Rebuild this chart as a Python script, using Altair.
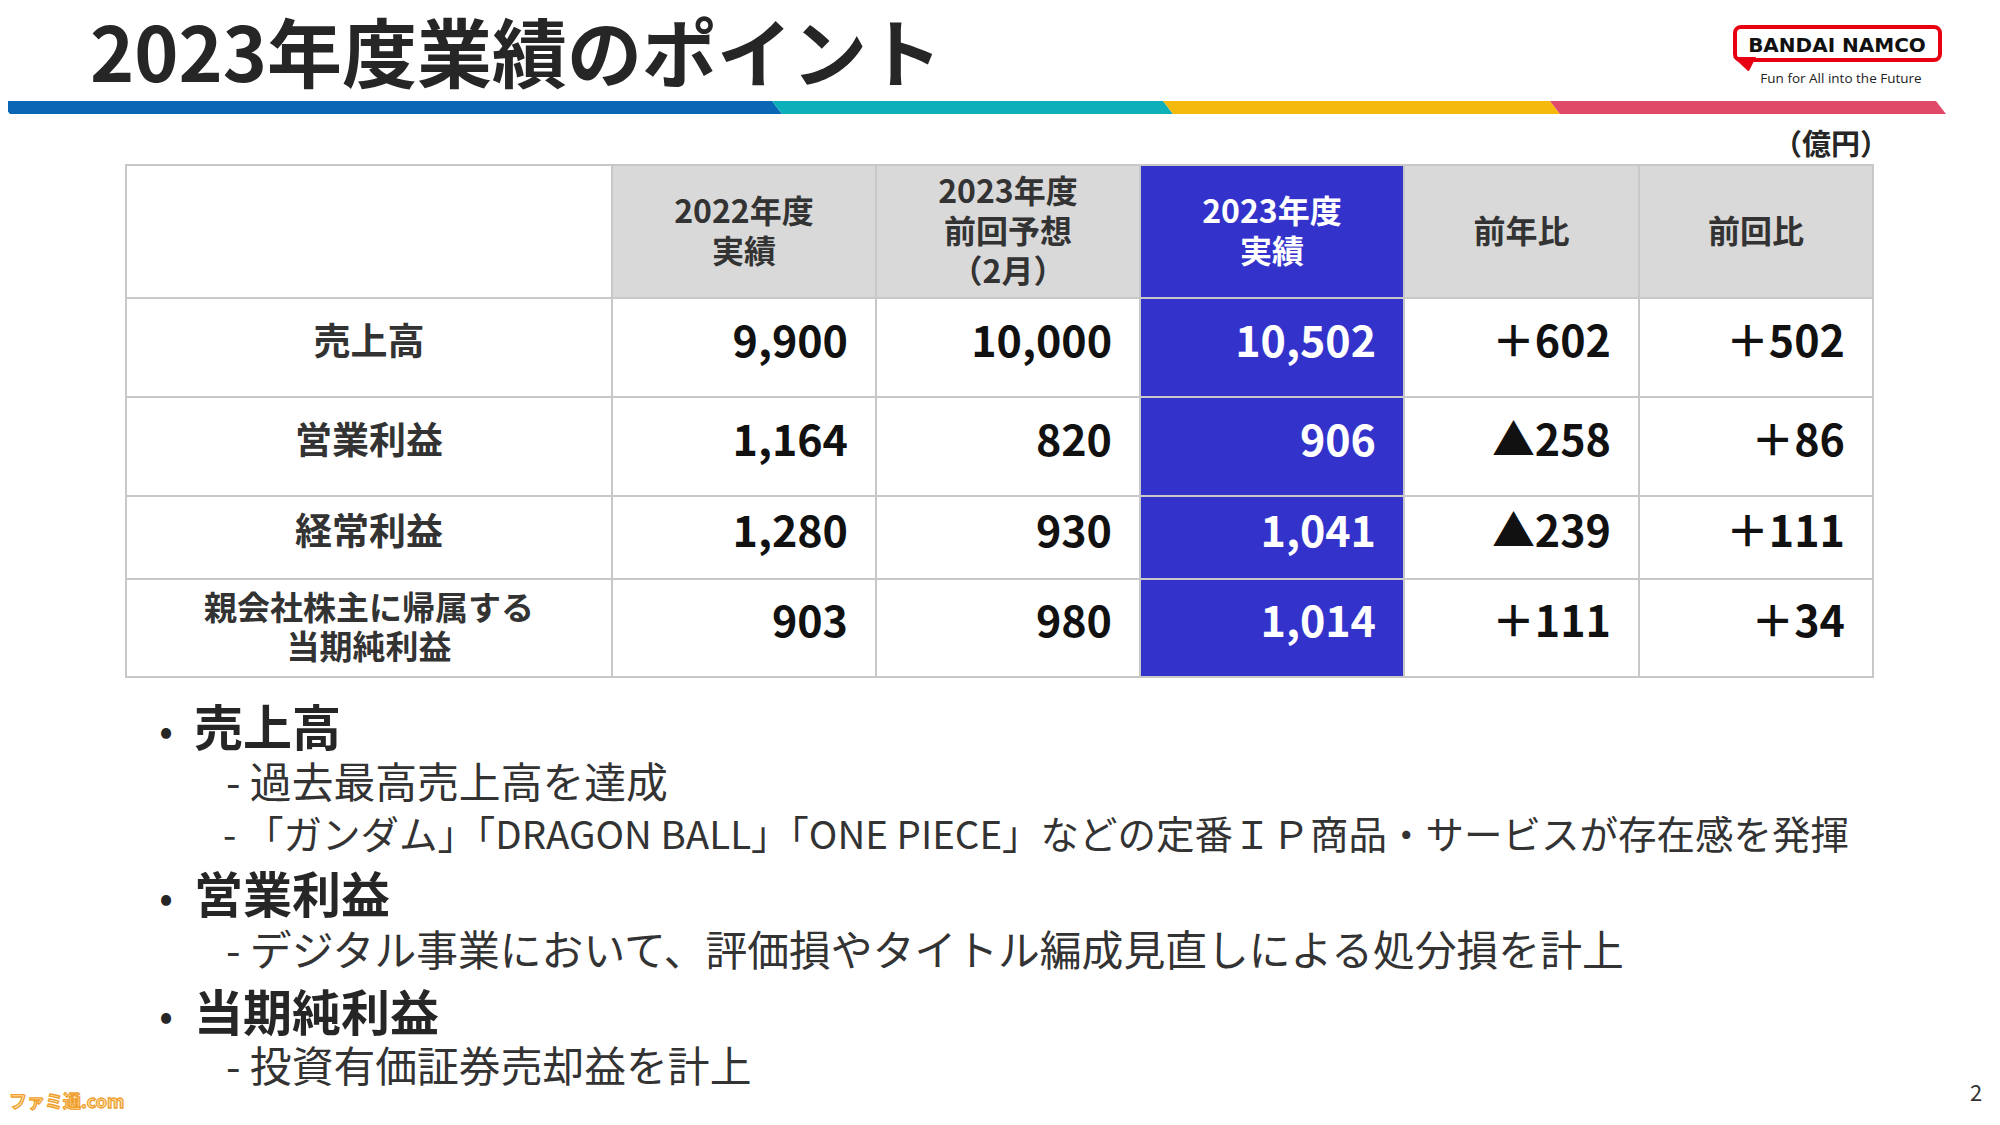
import altair as alt
import pandas as pd

# ---------------- data ----------------
title = "2023年度業績のポイント"
unit_label = "（億円）"
col_headers = ["2022年度\n実績", "2023年度\n前回予想\n（2月）", "2023年度\n実績", "前年比", "前回比"]
row_labels = ["売上高", "営業利益", "経常利益", "親会社株主に帰属する\n当期純利益"]
fy2022_actual = [9900, 1164, 1280, 903]
fy2023_forecast_feb = [10000, 820, 930, 980]
fy2023_actual = [10502, 906, 1041, 1014]
yoy_change = [602, -258, -239, 111]
vs_forecast = [502, 86, 111, 34]
bullet_heads = ["売上高", "営業利益", "当期純利益"]
bullet_details = [
    ["過去最高売上高を達成",
     "「ガンダム」「DRAGON BALL」「ONE PIECE」などの定番ＩＰ商品・サービスが存在感を発揮"],
    ["デジタル事業において、評価損やタイトル編成見直しによる処分損を計上"],
    ["投資有価証券売却益を計上"],
]
logo_text = "BANDAI NAMCO"
logo_tagline = "Fun for All into the Future"
page_number = "2"
watermark = "ファミ通.com"

# ---------------- layout ----------------
W, H = 1984, 1109
xs = alt.Scale(domain=[8, 8 + W])
ys = alt.Scale(domain=[8, 8 + H], reverse=True)
FONT = "Noto Sans CJK JP"
DARK = "#262626"
BLUE_COL = "#3333cc"
GRAY = "#d9d9d9"
BORDER = "#c8c8c8"

col_edges = [126, 612, 876, 1140, 1404, 1639, 1873]
row_edges = [165, 298, 397, 496, 579, 677]


def X(f="x"):
    return alt.X(f"{f}:Q", scale=xs, axis=None)


def Y(f="y"):
    return alt.Y(f"{f}:Q", scale=ys, axis=None)


def fmt(v):
    return f"{v:,}"


def diff(v):
    return f"＋{v:,}" if v >= 0 else f"▲{abs(v):,}"


layers = []

# colour band under title (parallelograms)
band_cols = ["#0a67b5", "#0bb0b9", "#f5b80c", "#e04a68"]
band_edges = [0, 772, 1163, 1550, 1936]
band_rows = []
for i in range(4):
    band_rows.append(dict(seg=i, y=101, x=band_edges[i], x2=band_edges[i + 1], c=band_cols[i]))
    band_rows.append(dict(seg=i, y=114, x=band_edges[i] + 10, x2=band_edges[i + 1] + 10, c=band_cols[i]))
layers.append(
    alt.Chart(pd.DataFrame(band_rows)).mark_area(orient="horizontal", clip=False).encode(
        y=Y(), x=X(), x2="x2:Q", color=alt.Color("c:N", scale=None), detail="seg:N"
    )
)

# title
layers.append(
    alt.Chart(pd.DataFrame([dict(x=90, y=59, t=title)])).mark_text(
        align="left", baseline="middle", font=FONT, fontWeight="bold", fontSize=75, color=DARK
    ).encode(x=X(), y=Y(), text="t:N")
)

# logo
layers.append(
    alt.Chart(pd.DataFrame([dict(x=1735, x2=1940, y=27, y2=60)])).mark_rect(
        fill="white", stroke="#e60012", strokeWidth=4, cornerRadius=6
    ).encode(x=X(), x2="x2:Q", y=Y(), y2="y2:Q")
)
layers.append(
    alt.Chart(pd.DataFrame([dict(y=57, x=1733, x2=1756), dict(y=71, x=1748, x2=1749)])).mark_area(
        orient="horizontal", color="#e60012"
    ).encode(y=Y(), x=X(), x2="x2:Q")
)
layers.append(
    alt.Chart(pd.DataFrame([dict(x=1837, y=46, t=logo_text)])).mark_text(
        align="center", baseline="middle", font="DejaVu Sans", fontWeight="bold", fontSize=20, color="#111"
    ).encode(x=X(), y=Y(), text="t:N")
)
layers.append(
    alt.Chart(pd.DataFrame([dict(x=1841, y=79, t=logo_tagline)])).mark_text(
        align="center", baseline="middle", font="Open Sans", fontSize=13.5, color="#222"
    ).encode(x=X(), y=Y(), text="t:N")
)

# unit label
layers.append(
    alt.Chart(pd.DataFrame([dict(x=1889, y=146, t=unit_label)])).mark_text(
        align="right", baseline="middle", font=FONT, fontWeight="bold", fontSize=29, color=DARK
    ).encode(x=X(), y=Y(), text="t:N")
)

# table cells
cells = []
for r in range(5):
    for c in range(6):
        if c == 3:
            fill = BLUE_COL
        elif r == 0 and c > 0:
            fill = GRAY
        else:
            fill = "#ffffff"
        cells.append(dict(x=col_edges[c], x2=col_edges[c + 1], y=row_edges[r], y2=row_edges[r + 1], fill=fill))
layers.append(
    alt.Chart(pd.DataFrame(cells)).mark_rect(stroke=BORDER, strokeWidth=2).encode(
        x=X(), x2="x2:Q", y=Y(), y2="y2:Q", color=alt.Color("fill:N", scale=None)
    )
)

# header text (Vega puts the first line on the anchor, so shift multi-line blocks up)
HLH = 40
hdr = []
for i, h in enumerate(col_headers):
    c = i + 1
    n = h.count("\n") + 1
    yc = (row_edges[0] + row_edges[1]) / 2 + 1.5 - (n - 1) * HLH / 2
    hdr.append(dict(x=(col_edges[c] + col_edges[c + 1]) / 2, y=yc,
                    t=h, col="#ffffff" if c == 3 else "#333333"))
layers.append(
    alt.Chart(pd.DataFrame(hdr)).mark_text(
        align="center", baseline="middle", font=FONT, fontWeight="bold", fontSize=32, lineBreak="\n", lineHeight=HLH
    ).encode(x=X(), y=Y(), text="t:N", color=alt.Color("col:N", scale=None))
)

# row labels
RLH = 39
rl = []
for r, lab in enumerate(row_labels):
    n = lab.count("\n") + 1
    yc = (row_edges[r + 1] + row_edges[r + 2]) / 2
    yc = yc - 4 if n == 1 else yc + 1.5 - (n - 1) * RLH / 2
    rl.append(dict(x=(col_edges[0] + col_edges[1]) / 2, y=yc, t=lab, fs=33 if n > 1 else 37))
layers.append(
    alt.Chart(pd.DataFrame(rl)).mark_text(
        align="center", baseline="middle", font=FONT, fontWeight="bold", lineBreak="\n", lineHeight=RLH, color="#333333"
    ).encode(x=X(), y=Y(), text="t:N", size=alt.Size("fs:Q", scale=None))
)

# numbers
nums = []
series = [
    [fmt(v) for v in fy2022_actual],
    [fmt(v) for v in fy2023_forecast_feb],
    [fmt(v) for v in fy2023_actual],
    [diff(v) for v in yoy_change],
    [diff(v) for v in vs_forecast],
]
for i, s in enumerate(series):
    c = i + 1
    for r, t in enumerate(s):
        nums.append(dict(x=col_edges[c + 1] - 28, y=(row_edges[r + 1] + row_edges[r + 2]) / 2 - 4,
                         t=t, col="#ffffff" if c == 3 else "#111111"))
layers.append(
    alt.Chart(pd.DataFrame(nums)).mark_text(
        align="right", baseline="middle", font=FONT, fontWeight="bold", fontSize=43
    ).encode(x=X(), y=Y(), text="t:N", color=alt.Color("col:N", scale=None))
)

# bullets
head_y = [731, 898, 1016]
detail_y = [[785, 837], [953], [1069]]
bl, bh, bd = [], [], []
for i, h in enumerate(bullet_heads):
    bl.append(dict(x=166, y=head_y[i] + 2, t="•"))
    bh.append(dict(x=194, y=head_y[i], t=h))
    for j, d in enumerate(bullet_details[i]):
        long = len(d) > 40
        bd.append(dict(x=223 if long else 226, y=detail_y[i][j], t="- " + d, fs=38.5 if long else 41.8))
layers.append(
    alt.Chart(pd.DataFrame(bl)).mark_text(
        align="center", baseline="middle", font=FONT, fontSize=40, color=DARK
    ).encode(x=X(), y=Y(), text="t:N")
)
layers.append(
    alt.Chart(pd.DataFrame(bh)).mark_text(
        align="left", baseline="middle", font=FONT, fontWeight="bold", fontSize=49, color=DARK
    ).encode(x=X(), y=Y(), text="t:N")
)
layers.append(
    alt.Chart(pd.DataFrame(bd)).mark_text(
        align="left", baseline="middle", font=FONT, color="#333333"
    ).encode(x=X(), y=Y(), text="t:N", size=alt.Size("fs:Q", scale=None))
)

# page number and watermark
layers.append(
    alt.Chart(pd.DataFrame([dict(x=1976, y=1094, t=page_number)])).mark_text(
        align="center", baseline="middle", font=FONT, fontSize=22, color="#333333"
    ).encode(x=X(), y=Y(), text="t:N")
)
layers.append(
    alt.Chart(pd.DataFrame([dict(x=9, y=1103, t=watermark)])).mark_text(
        align="left", baseline="middle", font=FONT, fontWeight="bold", fontSize=18,
        color="#ffe3a8", stroke="#f0a030", strokeWidth=1.3
    ).encode(x=X(), y=Y(), text="t:N")
)

chart = alt.layer(*layers).properties(
    width=W, height=H, padding=0, background="white",
    autosize=alt.AutoSizeParams(type="none"),
).configure_view(stroke=None)

chart.save("out.html", embed_options={"renderer": "svg", "actions": False})
